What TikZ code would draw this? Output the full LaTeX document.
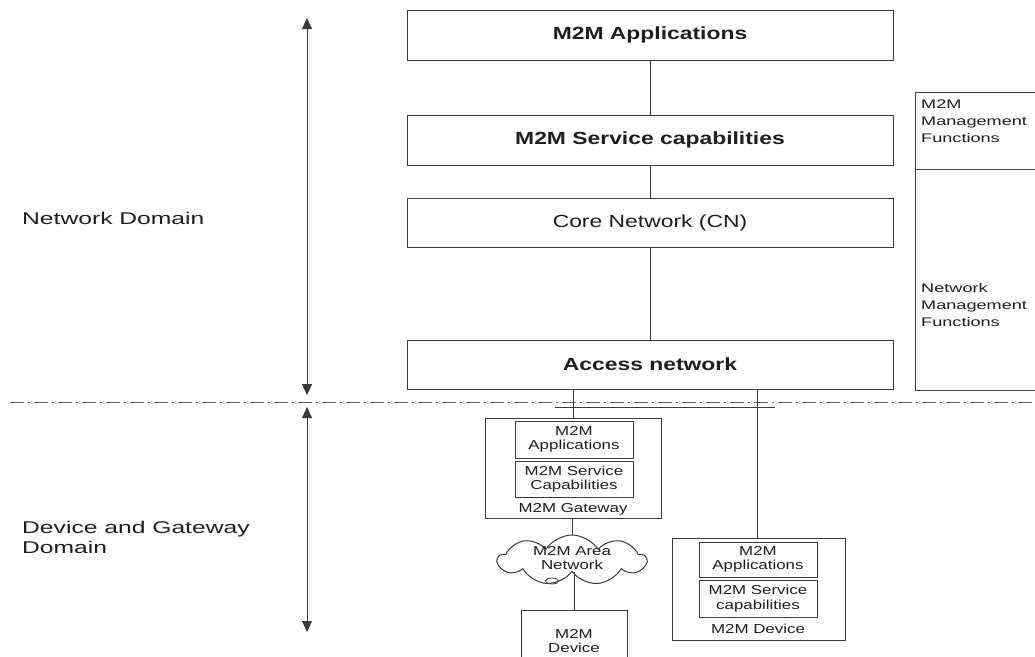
\documentclass[tikz,border=0pt]{standalone}
\usepackage{fontspec}
\setmainfont{Liberation Sans}[FakeStretch=1.3]
\newfontfamily\widefont{Liberation Sans}[FakeStretch=1.45]
\usetikzlibrary{shapes.symbols,shapes.geometric,arrows.meta}
\definecolor{ln}{HTML}{3A3A3A}
\definecolor{tx}{HTML}{1E1E1E}
\tikzset{
  box/.style={draw=ln, line width=1pt, inner sep=0pt, text=tx},
  bigbox/.style={box, minimum width=486pt, font=\fontsize{17.6}{20}\selectfont},
  smallfont/.style={font=\fontsize{13}{14.5}\selectfont, text=tx, align=center, inner sep=0pt},
  inbox/.style={box, smallfont, minimum width=118pt},
  conn/.style={draw=ln, line width=1pt},
  domarrow/.style={draw=ln, line width=1pt, {Triangle[length=11pt,width=10pt]}-{Triangle[length=11pt,width=10pt]}},
  domlabel/.style={font=\widefont\fontsize{17}{20}\selectfont, text=tx, anchor=west, align=left, inner sep=0pt},
  mgmtlabel/.style={font=\widefont\fontsize{12.5}{17}\selectfont, text=tx, anchor=west, align=left, inner sep=0pt},
}
\begin{document}
\begin{tikzpicture}[x=1pt,y=-1pt]
\useasboundingbox (0,0) rectangle (1035,656);
\clip (0,0) rectangle (1035,656);

% top stack
\node[bigbox, minimum height=50pt] (app) at (650,35) {\textbf{M2M Applications}};
\node[bigbox, minimum height=50pt] (sc) at (650,140) {\textbf{M2M Service capabilities}};
\node[bigbox, minimum height=49pt] (cn) at (650,222.5) {Core Network (CN)};
\node[bigbox, minimum height=49pt] (an) at (650,364.5) {\textbf{Access network}};
\draw[conn] (app) -- (sc);
\draw[conn] (sc) -- (cn);
\draw[conn] (cn) -- (an);

% management boxes
\node[box, minimum width=130pt, minimum height=77pt, anchor=north west] (mm) at (915,92) {};
\node[box, minimum width=130pt, minimum height=221pt, anchor=north west] (nm) at (915,169) {};
\node[mgmtlabel] (mmt) at (921,121) {M2M\\Management\\Functions};
\node[mgmtlabel] (nmt) at (921,305) {Network\\Management\\Functions};

% domain labels and arrows
\node[domlabel] (nd) at (22,218) {Network Domain};
\node[domlabel] (dgd) at (22,537) {Device and Gateway\\Domain};
\coordinate (na1) at (307,18);
\coordinate (na2) at (307,395);
\coordinate (da1) at (307,407);
\coordinate (da2) at (307,632);
\draw[domarrow] (na1) -- (na2);
\draw[domarrow] (da1) -- (da2);

% dash-dot separator
\coordinate (dl) at (10,402);
\coordinate (dr) at (1035,402);
\draw[draw=ln!80, line width=1pt, dash pattern=on 14pt off 4pt on 2pt off 4pt] (dl) -- (dr);
\coordinate (bar1) at (555,407);
\coordinate (bar2) at (775,407);
\draw[conn] (bar1) -- (bar2);

% gateway
\node[box, minimum width=176pt, minimum height=100pt] (gw) at (573,468) {};
\node[inbox, minimum height=37pt] (gapp) at (574,439.5) {M2M\\Applications};
\node[inbox, minimum height=36pt] (gsc) at (574,479) {M2M Service\\Capabilities};
\node[smallfont] (gwl) at (573,509.5) {M2M Gateway};
\draw[conn] (gw.north) -- (gw.north |- an.south);

% cloud
\node[cloud, draw=ln, line width=1pt, cloud puffs=9, cloud puff arc=115, aspect=2.9, minimum width=148pt, minimum height=50pt, inner sep=0pt] (cl) at (572,560) {};
\node[smallfont] (clt) at (572,558) {M2M Area\\Network};
\node[draw=ln, line width=0.8pt, ellipse, minimum width=13pt, minimum height=6pt, inner sep=0pt] (cle) at (552,581) {};
\draw[conn] (gw.south -| cl.north) -- (cl.north);

% small device
\node[box, smallfont, minimum width=106pt, minimum height=62pt] (sd) at (574,641) {M2M\\Device};
\draw[conn] (cl.south -| sd.north) -- (sd.north);

% right device
\node[box, minimum width=173pt, minimum height=102pt] (rd) at (758.5,589) {};
\node[inbox, minimum height=35pt] (rapp) at (758,559.5) {M2M\\Applications};
\node[inbox, minimum height=37pt] (rsc) at (758,598.5) {M2M Service\\capabilities};
\node[smallfont] (rdl) at (758,629) {M2M Device};
\coordinate (rtop) at (757,389);
\draw[conn] (rtop) -- (rtop |- rd.north);
\end{tikzpicture}
\end{document}
